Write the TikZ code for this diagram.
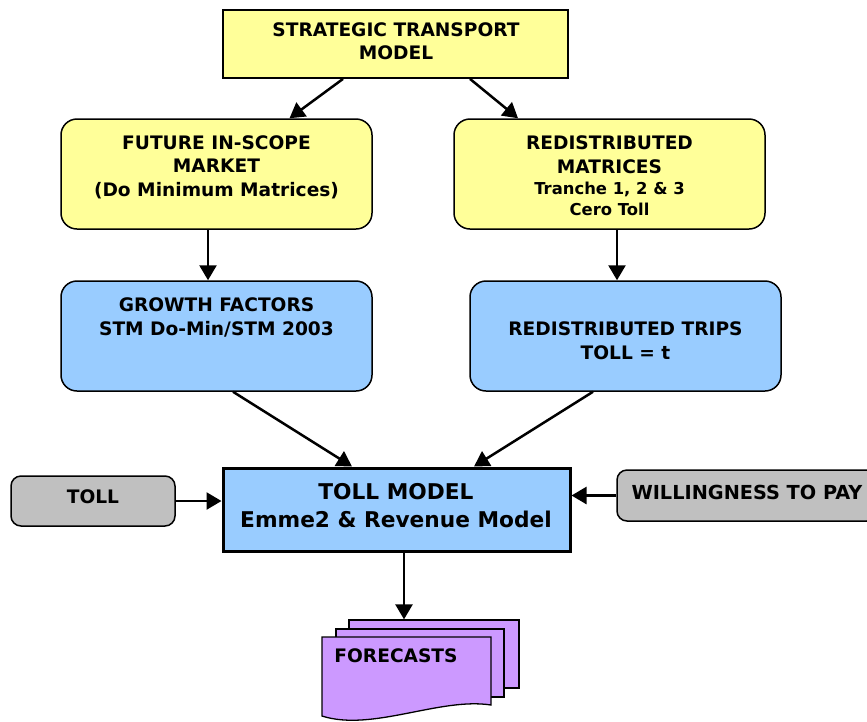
\documentclass[tikz,border=0pt]{standalone}
\usepackage{fontspec}
\setmainfont{DejaVu Sans}
\usetikzlibrary{arrows.meta,calc}
\definecolor{ylw}{HTML}{FFFF99}
\definecolor{blu}{HTML}{99CCFF}
\definecolor{gry}{HTML}{C0C0C0}
\definecolor{prp}{HTML}{CC99FF}
\begin{document}
\begin{tikzpicture}[x=1pt,y=-1pt,
  sqbox/.style={draw, line width=1.8pt, fill=ylw, inner sep=0pt},
  rbox/.style={draw, line width=1.5pt, rounded corners=16pt, inner sep=0pt, minimum width=311pt, minimum height=110pt},
  gbox/.style={draw, line width=1.5pt, rounded corners=10pt, fill=gry, inner sep=0pt},
  sheet/.style={draw, line width=1.3pt, fill=prp, inner sep=0pt},
  txt/.style={font=\bfseries\fontsize{18.6}{23.5}\selectfont, align=center, inner sep=0pt},
  arr/.style={-{Triangle[length=15pt,width=17pt]}, line width=2.5pt},
]
\clip (0,0) rectangle (867,721);
\fill[white] (0,0) rectangle (867,721);

% boxes
\node[sqbox, minimum width=345pt, minimum height=68pt] (stm) at (395.5,44) {};
\node[txt] (stmt) at (396,41) {STRATEGIC TRANSPORT\\MODEL};

\node[rbox, fill=ylw] (fut) at (216.5,174) {};
\node[txt] (futt) at (216.5,167) {FUTURE IN-SCOPE\\MARKET\\(Do Minimum Matrices)};

\node[rbox, fill=ylw] (red) at (609.5,174) {};
\node[txt] (redt) at (609.5,154.5) {REDISTRIBUTED\\MATRICES};
\node[txt, font=\bfseries\fontsize{16.4}{21}\selectfont] (redt2) at (609.5,198.5) {Tranche 1, 2 \& 3\\Cero Toll};

\node[rbox, fill=blu] (gro) at (216.5,336) {};
\node[txt] (grot) at (216.5,317.5) {GROWTH FACTORS\\STM Do-Min/STM 2003};

\node[rbox, fill=blu] (trp) at (625.5,336) {};
\node[txt] (trpt) at (625.5,340.5) {REDISTRIBUTED TRIPS\\TOLL = t};

\node[draw, line width=3pt, fill=blu, inner sep=0pt, minimum width=347pt, minimum height=83pt] (tm) at (396.5,509.5) {};
\node[txt, font=\bfseries\fontsize{21.7}{28}\selectfont] (tmt) at (396,506) {TOLL MODEL\\Emme2 \& Revenue Model};

\node[gbox, minimum width=164pt, minimum height=50pt] (toll) at (93,501) {};
\node[txt] (tollt) at (93,497) {TOLL};

\node[gbox, minimum width=260pt, minimum height=51pt] (wtp) at (747,495.5) {};
\node[txt, font=\bfseries\fontsize{19.3}{23.5}\selectfont] (wtpt) at (747,492) {WILLINGNESS TO PAY};

% forecasts document stack
\node[sheet, minimum width=170pt, minimum height=68pt] (fc3) at (434,654) {};
\node[sheet, minimum width=168pt, minimum height=68pt] (fc2) at (420,663) {};
\draw[sheet] (322,637) -- (491,637) -- (491,705) .. controls (440,697) and (372,732) .. (322,716) -- cycle;
\node[txt] (fct) at (396,656) {FORECASTS};

% connectors
\draw[arr] ([xshift=-52.5pt]stm.south) -- ([xshift=73pt]fut.north);
\draw[arr] ([xshift=74.5pt]stm.south) -- ([xshift=-91.5pt]red.north);
\draw[arr] ([xshift=-8.5pt]fut.south) -- ([xshift=-8.5pt]gro.north);
\draw[arr] ([xshift=7.5pt]red.south) -- ([xshift=-8.5pt]trp.north);
\draw[arr] ([xshift=16.5pt]gro.south) -- ([xshift=-44.5pt]tm.north);
\draw[arr] ([xshift=-32.5pt]trp.south) -- ([xshift=77.5pt]tm.north);
\draw[arr] (toll.east) -- (toll.east -| tm.west);
\draw[arr] (wtp.west) -- (wtp.west -| tm.east);
\draw[arr] ([xshift=7.5pt]tm.south) -- ([xshift=7.5pt]tm.south |- fc3.north);
\end{tikzpicture}
\end{document}
